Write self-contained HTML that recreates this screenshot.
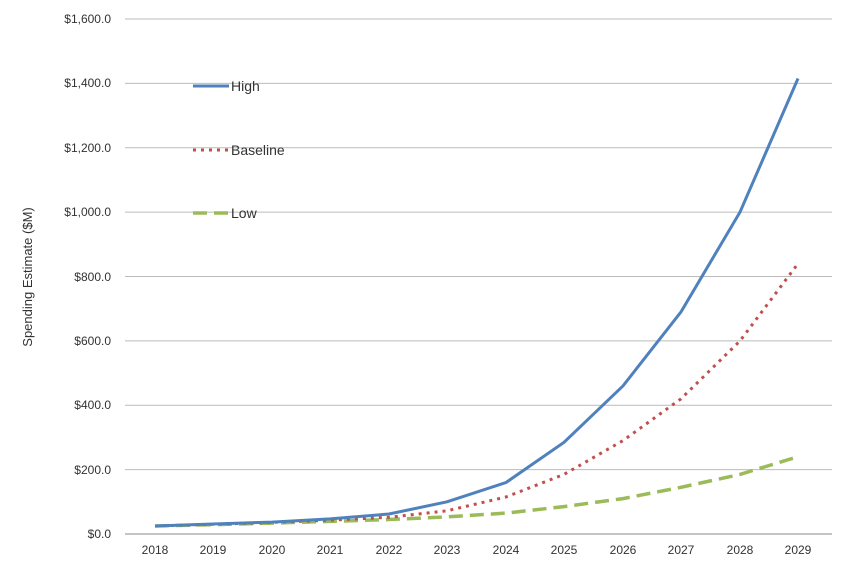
<!DOCTYPE html>
<html><head><style>body{margin:0;background:#fff}svg{display:block}text{font-family:"Liberation Sans",sans-serif;fill:#333}</style></head><body>
<svg width="849" height="567" viewBox="0 0 849 567">
<g stroke="#bbb" stroke-width="1">
<line x1="125" y1="19" x2="832" y2="19"/><line x1="125" y1="83.4" x2="832" y2="83.4"/><line x1="125" y1="147.8" x2="832" y2="147.8"/><line x1="125" y1="212.1" x2="832" y2="212.1"/><line x1="125" y1="276.5" x2="832" y2="276.5"/><line x1="125" y1="340.9" x2="832" y2="340.9"/><line x1="125" y1="405.3" x2="832" y2="405.3"/><line x1="125" y1="469.6" x2="832" y2="469.6"/><line x1="125" y1="534" x2="832" y2="534" stroke="#888"/>
</g>
<g font-size="12" text-anchor="end">
<text x="111" y="23">$1,600.0</text><text x="111" y="87">$1,400.0</text><text x="111" y="152">$1,200.0</text><text x="111" y="216">$1,000.0</text><text x="111" y="281">$800.0</text><text x="111" y="345">$600.0</text><text x="111" y="409">$400.0</text><text x="111" y="474">$200.0</text><text x="111" y="538">$0.0</text>
</g>
<g font-size="12" text-anchor="middle">
<text x="155" y="554">2018</text><text x="213" y="554">2019</text><text x="272" y="554">2020</text><text x="330" y="554">2021</text><text x="389" y="554">2022</text><text x="447" y="554">2023</text><text x="506" y="554">2024</text><text x="564" y="554">2025</text><text x="623" y="554">2026</text><text x="681" y="554">2027</text><text x="740" y="554">2028</text><text x="798" y="554">2029</text>
</g>
<text transform="translate(32,277) rotate(-90)" font-size="13" text-anchor="middle">Spending Estimate ($M)</text>
<polyline fill="none" stroke="#9bbb59" stroke-width="3.5" stroke-dasharray="14,7" points="155,526 213,524.7 272,523.1 330,521.4 389,519.5 447,516.9 506,513.1 564,506.6 623,498.6 681,487.3 740,474.4 798,456.7"/>
<polyline fill="none" stroke="#c0504d" stroke-width="3" stroke-dasharray="3,5" points="155,526 213,524.3 272,522.4 330,520.2 389,517.3 447,510.8 506,497 564,474.4 623,440.6 681,398.8 740,340.9 798,263.6"/>
<polyline fill="none" stroke="#4f81bd" stroke-width="3" points="155,526 213,524 272,522.1 330,518.9 389,514 447,501.8 506,482.5 564,442.3 623,385.9 681,311.9 740,212.1 798,78.5"/>
<line x1="193" y1="86" x2="229" y2="86" stroke="#4f81bd" stroke-width="3"/>
<line x1="193" y1="150" x2="229" y2="150" stroke="#c0504d" stroke-width="3" stroke-dasharray="3,5"/>
<line x1="193" y1="213" x2="229" y2="213" stroke="#9bbb59" stroke-width="3.5" stroke-dasharray="14,7"/>
<g font-size="14"><text x="231" y="91">High</text><text x="231" y="155">Baseline</text><text x="231" y="218">Low</text></g>
</svg>
</body></html>
